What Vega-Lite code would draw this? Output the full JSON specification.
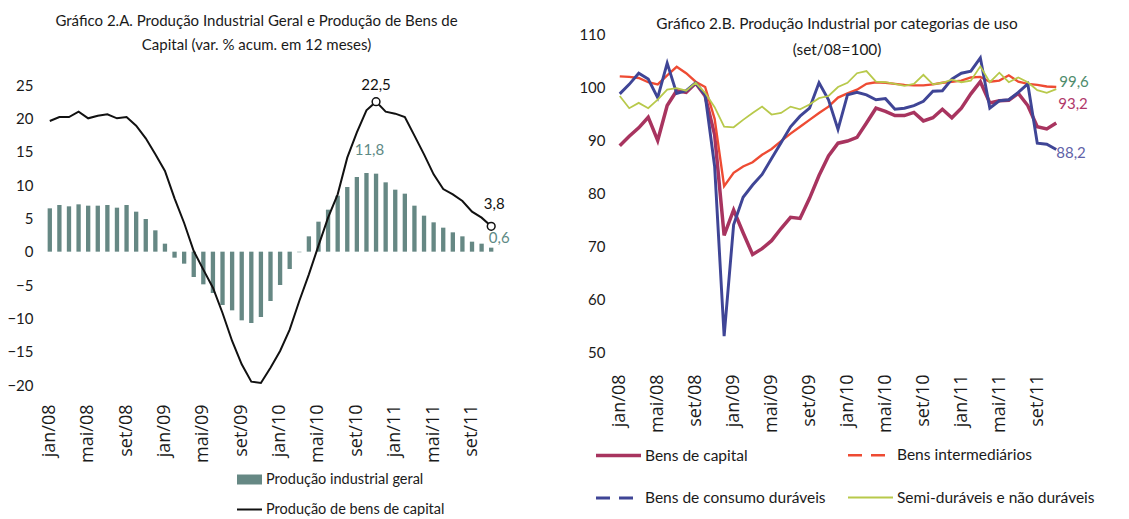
{
  "$schema": "https://vega.github.io/schema/vega-lite/v6.json",
  "background": "white",
  "padding": {"left": 6, "top": 14, "right": 0, "bottom": 0},
  "spacing": 68,
  "resolve": {
    "scale": {"color": "independent", "stroke": "independent", "strokeWidth": "independent", "x": "independent", "y": "independent"},
    "legend": {"color": "independent", "stroke": "independent", "strokeWidth": "independent"}
  },
  "config": {
    "view": {"stroke": null},
    "font": "Lato",
    "axis": {"grid": false, "domain": false, "ticks": false, "labelFont": "Lato", "labelFontSize": 15, "labelColor": "#1a1a1a"},
    "axisX": {"labelFont": "Open Sans", "labelFontSize": 18},
    "legend": {"padding": 0, "labelFont": "Lato", "labelFontSize": 15, "labelColor": "#1a1a1a", "labelLimit": 400},
    "title": {"font": "Lato", "fontSize": 15, "fontWeight": "normal", "color": "#1a1a1a", "lineHeight": 24, "anchor": "middle"}
  },
  "datasets": {
    "esq": [
      {"m":"jan/08","g":6.5,"c":19.6},
      {"m":"fev/08","g":7.0,"c":20.2},
      {"m":"mar/08","g":6.8,"c":20.2},
      {"m":"abr/08","g":7.1,"c":21.0},
      {"m":"mai/08","g":6.9,"c":20.0},
      {"m":"jun/08","g":6.9,"c":20.4},
      {"m":"jul/08","g":7.0,"c":20.6},
      {"m":"ago/08","g":6.6,"c":20.0},
      {"m":"set/08","g":7.0,"c":20.2},
      {"m":"out/08","g":6.0,"c":18.9},
      {"m":"nov/08","g":4.9,"c":17.0},
      {"m":"dez/08","g":3.2,"c":14.6},
      {"m":"jan/09","g":1.2,"c":12.1},
      {"m":"fev/09","g":-0.9,"c":8.0},
      {"m":"mar/09","g":-1.8,"c":4.3},
      {"m":"abr/09","g":-3.8,"c":0.1},
      {"m":"mai/09","g":-4.9,"c":-2.7},
      {"m":"jun/09","g":-6.2,"c":-5.4},
      {"m":"jul/09","g":-8.0,"c":-9.2},
      {"m":"ago/09","g":-8.8,"c":-13.4},
      {"m":"set/09","g":-10.3,"c":-16.9},
      {"m":"out/09","g":-10.7,"c":-19.5},
      {"m":"nov/09","g":-9.8,"c":-19.7},
      {"m":"dez/09","g":-7.4,"c":-17.4},
      {"m":"jan/10","g":-5.0,"c":-14.9},
      {"m":"fev/10","g":-2.6,"c":-11.7},
      {"m":"mar/10","g":-0.1,"c":-7.4},
      {"m":"abr/10","g":2.3,"c":-3.4},
      {"m":"mai/10","g":4.5,"c":0.9},
      {"m":"jun/10","g":6.3,"c":5.1},
      {"m":"jul/10","g":8.4,"c":8.6},
      {"m":"ago/10","g":9.7,"c":14.1},
      {"m":"set/10","g":11.2,"c":17.9},
      {"m":"out/10","g":11.8,"c":21.2,"rg":"11,8"},
      {"m":"nov/10","g":11.7,"c":22.5,"rc":"22,5"},
      {"m":"dez/10","g":10.4,"c":21.0},
      {"m":"jan/11","g":9.3,"c":20.7},
      {"m":"fev/11","g":8.7,"c":20.2},
      {"m":"mar/11","g":6.9,"c":17.4},
      {"m":"abr/11","g":5.4,"c":14.6},
      {"m":"mai/11","g":4.4,"c":11.6},
      {"m":"jun/11","g":3.6,"c":9.4},
      {"m":"jul/11","g":2.9,"c":8.6},
      {"m":"ago/11","g":2.3,"c":7.6},
      {"m":"set/11","g":1.5,"c":6.0},
      {"m":"out/11","g":1.2,"c":5.1},
      {"m":"nov/11","g":0.6,"c":3.8,"rg":"0,6","rc":"3,8"}
    ],
    "dir": [
      {"m":"jan/08","s":"Bens de capital","v":88.9},
      {"m":"fev/08","s":"Bens de capital","v":90.7},
      {"m":"mar/08","s":"Bens de capital","v":92.3},
      {"m":"abr/08","s":"Bens de capital","v":94.3},
      {"m":"mai/08","s":"Bens de capital","v":89.9},
      {"m":"jun/08","s":"Bens de capital","v":96.5},
      {"m":"jul/08","s":"Bens de capital","v":99.3},
      {"m":"ago/08","s":"Bens de capital","v":99.0},
      {"m":"set/08","s":"Bens de capital","v":100.7},
      {"m":"out/08","s":"Bens de capital","v":98.3},
      {"m":"nov/08","s":"Bens de capital","v":91.0},
      {"m":"dez/08","s":"Bens de capital","v":72.0},
      {"m":"jan/09","s":"Bens de capital","v":76.8},
      {"m":"fev/09","s":"Bens de capital","v":72.5},
      {"m":"mar/09","s":"Bens de capital","v":68.4},
      {"m":"abr/09","s":"Bens de capital","v":69.5},
      {"m":"mai/09","s":"Bens de capital","v":71.0},
      {"m":"jun/09","s":"Bens de capital","v":73.3},
      {"m":"jul/09","s":"Bens de capital","v":75.4},
      {"m":"ago/09","s":"Bens de capital","v":75.2},
      {"m":"set/09","s":"Bens de capital","v":79.0},
      {"m":"out/09","s":"Bens de capital","v":83.3},
      {"m":"nov/09","s":"Bens de capital","v":87.0},
      {"m":"dez/09","s":"Bens de capital","v":89.4},
      {"m":"jan/10","s":"Bens de capital","v":89.8},
      {"m":"fev/10","s":"Bens de capital","v":90.5},
      {"m":"mar/10","s":"Bens de capital","v":93.2},
      {"m":"abr/10","s":"Bens de capital","v":96.0},
      {"m":"mai/10","s":"Bens de capital","v":95.4},
      {"m":"jun/10","s":"Bens de capital","v":94.6},
      {"m":"jul/10","s":"Bens de capital","v":94.6},
      {"m":"ago/10","s":"Bens de capital","v":95.2},
      {"m":"set/10","s":"Bens de capital","v":93.6},
      {"m":"out/10","s":"Bens de capital","v":94.2},
      {"m":"nov/10","s":"Bens de capital","v":95.8},
      {"m":"dez/10","s":"Bens de capital","v":94.2},
      {"m":"jan/11","s":"Bens de capital","v":96.0},
      {"m":"fev/11","s":"Bens de capital","v":98.7},
      {"m":"mar/11","s":"Bens de capital","v":101.0},
      {"m":"abr/11","s":"Bens de capital","v":97.0},
      {"m":"mai/11","s":"Bens de capital","v":97.4},
      {"m":"jun/11","s":"Bens de capital","v":97.5},
      {"m":"jul/11","s":"Bens de capital","v":98.8},
      {"m":"ago/11","s":"Bens de capital","v":96.5},
      {"m":"set/11","s":"Bens de capital","v":92.5},
      {"m":"out/11","s":"Bens de capital","v":92.1},
      {"m":"nov/11","s":"Bens de capital","v":93.2,"r":"93,2"},
      {"m":"jan/08","s":"Bens intermediários","v":102.0},
      {"m":"fev/08","s":"Bens intermediários","v":101.9},
      {"m":"mar/08","s":"Bens intermediários","v":101.7},
      {"m":"abr/08","s":"Bens intermediários","v":100.9},
      {"m":"mai/08","s":"Bens intermediários","v":100.5},
      {"m":"jun/08","s":"Bens intermediários","v":102.2},
      {"m":"jul/08","s":"Bens intermediários","v":103.8},
      {"m":"ago/08","s":"Bens intermediários","v":102.6},
      {"m":"set/08","s":"Bens intermediários","v":101.0},
      {"m":"out/08","s":"Bens intermediários","v":100.0},
      {"m":"nov/08","s":"Bens intermediários","v":94.0},
      {"m":"dez/08","s":"Bens intermediários","v":81.3},
      {"m":"jan/09","s":"Bens intermediários","v":83.8},
      {"m":"fev/09","s":"Bens intermediários","v":85.0},
      {"m":"mar/09","s":"Bens intermediários","v":85.8},
      {"m":"abr/09","s":"Bens intermediários","v":87.2},
      {"m":"mai/09","s":"Bens intermediários","v":88.3},
      {"m":"jun/09","s":"Bens intermediários","v":89.8},
      {"m":"jul/09","s":"Bens intermediários","v":91.2},
      {"m":"ago/09","s":"Bens intermediários","v":92.5},
      {"m":"set/09","s":"Bens intermediários","v":93.8},
      {"m":"out/09","s":"Bens intermediários","v":95.1},
      {"m":"nov/09","s":"Bens intermediários","v":96.3},
      {"m":"dez/09","s":"Bens intermediários","v":98.0},
      {"m":"jan/10","s":"Bens intermediários","v":98.8},
      {"m":"fev/10","s":"Bens intermediários","v":99.5},
      {"m":"mar/10","s":"Bens intermediários","v":100.6},
      {"m":"abr/10","s":"Bens intermediários","v":100.9},
      {"m":"mai/10","s":"Bens intermediários","v":100.8},
      {"m":"jun/10","s":"Bens intermediários","v":100.6},
      {"m":"jul/10","s":"Bens intermediários","v":100.4},
      {"m":"ago/10","s":"Bens intermediários","v":100.3},
      {"m":"set/10","s":"Bens intermediários","v":100.3},
      {"m":"out/10","s":"Bens intermediários","v":100.5},
      {"m":"nov/10","s":"Bens intermediários","v":100.8},
      {"m":"dez/10","s":"Bens intermediários","v":101.0},
      {"m":"jan/11","s":"Bens intermediários","v":101.2},
      {"m":"fev/11","s":"Bens intermediários","v":101.8},
      {"m":"mar/11","s":"Bens intermediários","v":101.9},
      {"m":"abr/11","s":"Bens intermediários","v":101.0},
      {"m":"mai/11","s":"Bens intermediários","v":101.2},
      {"m":"jun/11","s":"Bens intermediários","v":102.2},
      {"m":"jul/11","s":"Bens intermediários","v":101.0},
      {"m":"ago/11","s":"Bens intermediários","v":100.6},
      {"m":"set/11","s":"Bens intermediários","v":100.4},
      {"m":"out/11","s":"Bens intermediários","v":100.1},
      {"m":"nov/11","s":"Bens intermediários","v":100.0},
      {"m":"jan/08","s":"Bens de consumo duráveis","v":98.7},
      {"m":"fev/08","s":"Bens de consumo duráveis","v":100.5},
      {"m":"mar/08","s":"Bens de consumo duráveis","v":102.6},
      {"m":"abr/08","s":"Bens de consumo duráveis","v":101.5},
      {"m":"mai/08","s":"Bens de consumo duráveis","v":98.0},
      {"m":"jun/08","s":"Bens de consumo duráveis","v":104.5},
      {"m":"jul/08","s":"Bens de consumo duráveis","v":98.8},
      {"m":"ago/08","s":"Bens de consumo duráveis","v":99.3},
      {"m":"set/08","s":"Bens de consumo duráveis","v":100.8},
      {"m":"out/08","s":"Bens de consumo duráveis","v":98.5},
      {"m":"nov/08","s":"Bens de consumo duráveis","v":85.0},
      {"m":"dez/08","s":"Bens de consumo duráveis","v":53.0},
      {"m":"jan/09","s":"Bens de consumo duráveis","v":74.0},
      {"m":"fev/09","s":"Bens de consumo duráveis","v":79.2},
      {"m":"mar/09","s":"Bens de consumo duráveis","v":81.5},
      {"m":"abr/09","s":"Bens de consumo duráveis","v":83.5},
      {"m":"mai/09","s":"Bens de consumo duráveis","v":86.5},
      {"m":"jun/09","s":"Bens de consumo duráveis","v":89.5},
      {"m":"jul/09","s":"Bens de consumo duráveis","v":92.5},
      {"m":"ago/09","s":"Bens de consumo duráveis","v":94.5},
      {"m":"set/09","s":"Bens de consumo duráveis","v":96.0},
      {"m":"out/09","s":"Bens de consumo duráveis","v":100.8},
      {"m":"nov/09","s":"Bens de consumo duráveis","v":97.6},
      {"m":"dez/09","s":"Bens de consumo duráveis","v":92.0},
      {"m":"jan/10","s":"Bens de consumo duráveis","v":98.5},
      {"m":"fev/10","s":"Bens de consumo duráveis","v":99.0},
      {"m":"mar/10","s":"Bens de consumo duráveis","v":98.5},
      {"m":"abr/10","s":"Bens de consumo duráveis","v":97.6},
      {"m":"mai/10","s":"Bens de consumo duráveis","v":97.8},
      {"m":"jun/10","s":"Bens de consumo duráveis","v":95.8},
      {"m":"jul/10","s":"Bens de consumo duráveis","v":96.0},
      {"m":"ago/10","s":"Bens de consumo duráveis","v":96.5},
      {"m":"set/10","s":"Bens de consumo duráveis","v":97.3},
      {"m":"out/10","s":"Bens de consumo duráveis","v":99.2},
      {"m":"nov/10","s":"Bens de consumo duráveis","v":99.3},
      {"m":"dez/10","s":"Bens de consumo duráveis","v":101.5},
      {"m":"jan/11","s":"Bens de consumo duráveis","v":102.6},
      {"m":"fev/11","s":"Bens de consumo duráveis","v":103.0},
      {"m":"mar/11","s":"Bens de consumo duráveis","v":105.5},
      {"m":"abr/11","s":"Bens de consumo duráveis","v":96.0},
      {"m":"mai/11","s":"Bens de consumo duráveis","v":97.4},
      {"m":"jun/11","s":"Bens de consumo duráveis","v":97.6},
      {"m":"jul/11","s":"Bens de consumo duráveis","v":99.0},
      {"m":"ago/11","s":"Bens de consumo duráveis","v":100.6},
      {"m":"set/11","s":"Bens de consumo duráveis","v":89.4},
      {"m":"out/11","s":"Bens de consumo duráveis","v":89.2},
      {"m":"nov/11","s":"Bens de consumo duráveis","v":88.2,"r":"88,2"},
      {"m":"jan/08","s":"Semi-duráveis e não duráveis","v":98.3},
      {"m":"fev/08","s":"Semi-duráveis e não duráveis","v":96.0},
      {"m":"mar/08","s":"Semi-duráveis e não duráveis","v":97.0},
      {"m":"abr/08","s":"Semi-duráveis e não duráveis","v":96.0},
      {"m":"mai/08","s":"Semi-duráveis e não duráveis","v":97.6},
      {"m":"jun/08","s":"Semi-duráveis e não duráveis","v":99.5},
      {"m":"jul/08","s":"Semi-duráveis e não duráveis","v":99.8},
      {"m":"ago/08","s":"Semi-duráveis e não duráveis","v":99.3},
      {"m":"set/08","s":"Semi-duráveis e não duráveis","v":100.8},
      {"m":"out/08","s":"Semi-duráveis e não duráveis","v":98.9},
      {"m":"nov/08","s":"Semi-duráveis e não duráveis","v":96.2},
      {"m":"dez/08","s":"Semi-duráveis e não duráveis","v":92.5},
      {"m":"jan/09","s":"Semi-duráveis e não duráveis","v":92.4},
      {"m":"fev/09","s":"Semi-duráveis e não duráveis","v":93.8},
      {"m":"mar/09","s":"Semi-duráveis e não duráveis","v":95.1},
      {"m":"abr/09","s":"Semi-duráveis e não duráveis","v":96.3},
      {"m":"mai/09","s":"Semi-duráveis e não duráveis","v":94.8},
      {"m":"jun/09","s":"Semi-duráveis e não duráveis","v":95.1},
      {"m":"jul/09","s":"Semi-duráveis e não duráveis","v":96.3},
      {"m":"ago/09","s":"Semi-duráveis e não duráveis","v":95.8},
      {"m":"set/09","s":"Semi-duráveis e não duráveis","v":96.7},
      {"m":"out/09","s":"Semi-duráveis e não duráveis","v":97.9},
      {"m":"nov/09","s":"Semi-duráveis e não duráveis","v":98.3},
      {"m":"dez/09","s":"Semi-duráveis e não duráveis","v":100.0},
      {"m":"jan/10","s":"Semi-duráveis e não duráveis","v":100.8},
      {"m":"fev/10","s":"Semi-duráveis e não duráveis","v":102.6},
      {"m":"mar/10","s":"Semi-duráveis e não duráveis","v":103.0},
      {"m":"abr/10","s":"Semi-duráveis e não duráveis","v":101.0},
      {"m":"mai/10","s":"Semi-duráveis e não duráveis","v":100.9},
      {"m":"jun/10","s":"Semi-duráveis e não duráveis","v":100.6},
      {"m":"jul/10","s":"Semi-duráveis e não duráveis","v":100.2},
      {"m":"ago/10","s":"Semi-duráveis e não duráveis","v":100.6},
      {"m":"set/10","s":"Semi-duráveis e não duráveis","v":102.3},
      {"m":"out/10","s":"Semi-duráveis e não duráveis","v":100.5},
      {"m":"nov/10","s":"Semi-duráveis e não duráveis","v":100.8},
      {"m":"dez/10","s":"Semi-duráveis e não duráveis","v":101.4},
      {"m":"jan/11","s":"Semi-duráveis e não duráveis","v":100.9},
      {"m":"fev/11","s":"Semi-duráveis e não duráveis","v":101.2},
      {"m":"mar/11","s":"Semi-duráveis e não duráveis","v":103.9},
      {"m":"abr/11","s":"Semi-duráveis e não duráveis","v":100.9},
      {"m":"mai/11","s":"Semi-duráveis e não duráveis","v":102.7},
      {"m":"jun/11","s":"Semi-duráveis e não duráveis","v":100.9},
      {"m":"jul/11","s":"Semi-duráveis e não duráveis","v":101.8},
      {"m":"ago/11","s":"Semi-duráveis e não duráveis","v":100.9},
      {"m":"set/11","s":"Semi-duráveis e não duráveis","v":99.4},
      {"m":"out/11","s":"Semi-duráveis e não duráveis","v":98.9},
      {"m":"nov/11","s":"Semi-duráveis e não duráveis","v":99.6,"r":"99,6"}
    ]
  },
  "hconcat": [
    {
      "width": 451,
      "height": 351,
      "title": {"text": ["Gráfico 2.A. Produção Industrial Geral e Produção de Bens de", "Capital (var. % acum. em 12 meses)"], "offset": -19, "dx": -14},
      "data": {"name": "esq"},
      "encoding": {
        "x": {"field": "m", "type": "ordinal", "sort": null,
          "scale": {"paddingInner": 0.55, "paddingOuter": 0.275},
          "axis": {"values": ["jan/08","mai/08","set/08","jan/09","mai/09","set/09","jan/10","mai/10","set/10","jan/11","mai/11","set/11"], "labelAngle": -90, "labelPadding": 19, "title": null}}
      },
      "layer": [
        {
          "mark": {"type": "bar", "color": "#668884"},
          "encoding": {
            "y": {"field": "g", "type": "quantitative", "scale": {"domain": [-20, 32.65], "nice": false, "zero": false},
              "axis": {"values": [-20,-15,-10,-5,0,5,10,15,20,25], "title": null, "labelPadding": 12}},
            "color": {"datum": "Produção industrial geral", "scale": {"range": ["#668884"]},
              "legend": {"orient": "none", "legendX": 191, "legendY": 432, "title": null, "symbolType": "M-1,-0.4H1V0.4H-1Z", "symbolSize": 625, "labelOffset": 3, "labelFontSize": 14.5}}
          }
        },
        {
          "mark": {"type": "line", "strokeWidth": 2, "color": "#111111"},
          "encoding": {
            "y": {"field": "c", "type": "quantitative", "axis": {"values": [-20,-15,-10,-5,0,5,10,15,20,25], "title": null, "labelPadding": 12}},
            "stroke": {"datum": "Produção de bens de capital", "scale": {"range": ["#111111"]},
              "legend": {"orient": "none", "legendX": 191, "legendY": 462, "title": null, "symbolType": "stroke", "symbolSize": 625, "symbolStrokeWidth": 2, "labelOffset": 3, "labelFontSize": 14.5}}
          }
        },
        {
          "transform": [{"filter": "datum.rc != null"}],
          "mark": {"type": "point", "filled": true, "fill": "white", "stroke": "#111111", "strokeWidth": 1.5, "size": 60, "opacity": 1},
          "encoding": {"y": {"field": "c", "type": "quantitative", "axis": {"values": [-20,-15,-10,-5,0,5,10,15,20,25], "title": null, "labelPadding": 12}}}
        },
        {
          "transform": [{"filter": "datum.rc == '22,5'"}],
          "mark": {"type": "text", "dy": -17, "fontSize": 15, "color": "#111111"},
          "encoding": {"y": {"field": "c", "type": "quantitative", "axis": {"values": [-20,-15,-10,-5,0,5,10,15,20,25], "title": null, "labelPadding": 12}}, "text": {"field": "rc"}}
        },
        {
          "transform": [{"filter": "datum.rc == '3,8'"}],
          "mark": {"type": "text", "dy": -22, "dx": 3, "fontSize": 15, "color": "#111111"},
          "encoding": {"y": {"field": "c", "type": "quantitative", "axis": {"values": [-20,-15,-10,-5,0,5,10,15,20,25], "title": null, "labelPadding": 12}}, "text": {"field": "rc"}}
        },
        {
          "transform": [{"filter": "datum.rg == '11,8'"}],
          "mark": {"type": "text", "dy": -23, "dx": 3, "fontSize": 15, "color": "#5E8A85"},
          "encoding": {"y": {"field": "g", "type": "quantitative", "axis": {"values": [-20,-15,-10,-5,0,5,10,15,20,25], "title": null, "labelPadding": 12}}, "text": {"field": "rg"}}
        },
        {
          "transform": [{"filter": "datum.rg == '0,6'"}],
          "mark": {"type": "text", "dy": -10, "dx": 8, "fontSize": 15, "color": "#5E8A85"},
          "encoding": {"y": {"field": "g", "type": "quantitative", "axis": {"values": [-20,-15,-10,-5,0,5,10,15,20,25], "title": null, "labelPadding": 12}}, "text": {"field": "rg"}}
        }
      ]
    },
    {
      "width": 446,
      "height": 318,
      "title": {"text": ["Gráfico 2.B. Produção Industrial por categorias de uso", "(set/08=100)"], "offset": -31, "dx": -1, "fontSize": 15.4, "lineHeight": 26},
      "data": {"name": "dir"},
      "encoding": {
        "x": {"field": "m", "type": "ordinal", "sort": null,
          "axis": {"values": ["jan/08","mai/08","set/08","jan/09","mai/09","set/09","jan/10","mai/10","set/10","jan/11","mai/11","set/11"], "labelAngle": -90, "labelPadding": 22, "title": null}},
        "y": {"field": "v", "type": "quantitative", "scale": {"domain": [50, 110], "nice": false, "zero": false},
          "axis": {"values": [50,60,70,80,90,100,110], "title": null, "labelPadding": 10}}
      },
      "layer": [
        {
          "mark": {"type": "line"},
          "encoding": {
            "color": {"field": "s", "type": "nominal",
              "scale": {"domain": ["Bens de capital","Bens de consumo duráveis","Bens intermediários","Semi-duráveis e não duráveis"], "range": ["#A8345F","#3F4596","#EE4B33","#B8C94B"]},
              "legend": {"orient": "none", "legendX": -21, "legendY": 397, "title": null, "columns": 2, "columnPadding": 17, "rowPadding": 10, "symbolType": "stroke", "symbolSize": 2025, "labelOffset": 2, "labelFontSize": 15.5,
                "encode": {"symbols": {"update": {"strokeDash": {"signal": "datum.value === 'Bens intermediários' || datum.value === 'Bens de consumo duráveis' ? [14, 9] : null"}}}}}},
            "strokeWidth": {"field": "s", "type": "nominal",
              "scale": {"domain": ["Bens de capital","Bens de consumo duráveis","Bens intermediários","Semi-duráveis e não duráveis"], "range": [3.5, 1.8, 1.8, 1.8]},
              "legend": {"orient": "none", "legendX": -21, "legendY": 397, "title": null, "columns": 2, "columnPadding": 17, "rowPadding": 10, "symbolType": "stroke", "symbolSize": 2025, "labelOffset": 2, "labelFontSize": 15.5}}
          }
        },
        {
          "transform": [{"filter": "datum.r == '99,6'"}],
          "mark": {"type": "text", "align": "left", "dx": 3, "dy": -7, "fontSize": 15, "color": "#4E8B6B"},
          "encoding": {"text": {"field": "r"}}
        },
        {
          "transform": [{"filter": "datum.r == '93,2'"}],
          "mark": {"type": "text", "align": "left", "dx": 2, "dy": -19, "fontSize": 15, "color": "#B0386A"},
          "encoding": {"text": {"field": "r"}}
        },
        {
          "transform": [{"filter": "datum.r == '88,2'"}],
          "mark": {"type": "text", "align": "left", "dx": 0, "dy": 3, "fontSize": 15, "color": "#5F62A8"},
          "encoding": {"text": {"field": "r"}}
        }
      ]
    }
  ]
}
